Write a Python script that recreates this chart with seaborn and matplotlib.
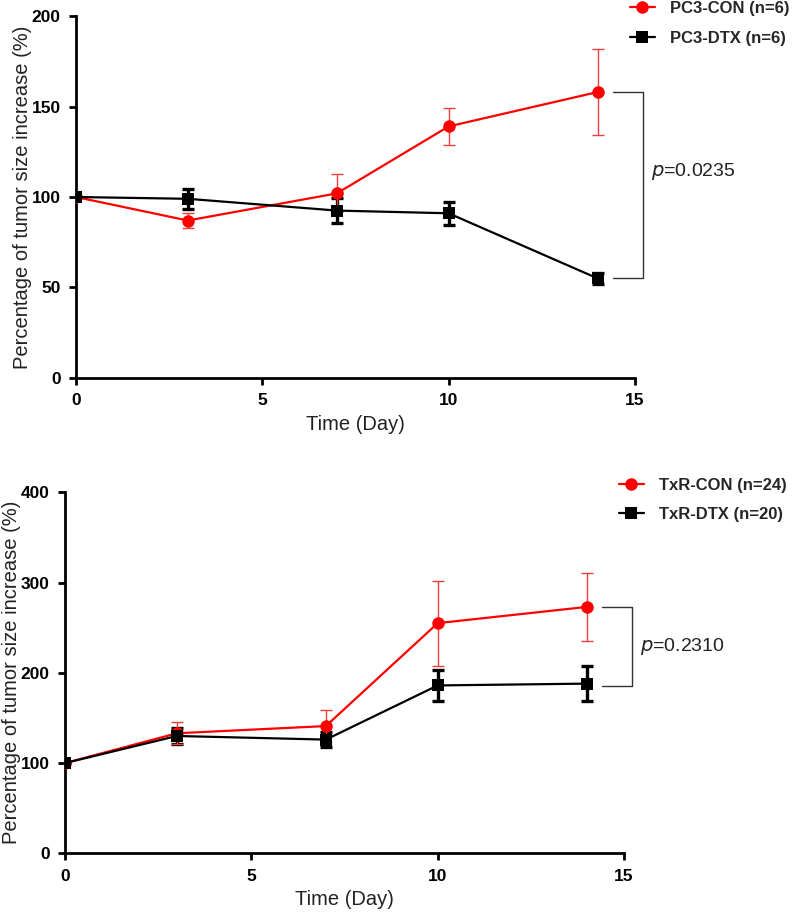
import numpy as np
import pandas as pd
import matplotlib
matplotlib.use("Agg")
import matplotlib.pyplot as plt
import seaborn as sns

# values (mean and SEM)
days = [0, 3, 7, 10, 14]

pc3_con = [100, 87, 102, 139, 158]
pc3_con_err = [0, 4.3, 10.5, 10.3, 24]
pc3_dtx = [100, 99, 92.5, 91, 55]
pc3_dtx_err = [0, 5.6, 7, 6.3, 3]

txr_con = [100, 133, 141, 255, 273]
txr_con_err = [0, 12, 18, 47, 38]
txr_dtx = [100, 130, 126, 186, 188]
txr_dtx_err = [0, 9, 8.5, 17.5, 19.5]

sns.set_theme(style="ticks")
plt.rcParams["font.family"] = ["Liberation Sans", "DejaVu Sans"]

fig = plt.figure(figsize=(7.99, 9.15), dpi=100)
ax1 = fig.add_axes([0.0951, 0.5869, 0.6996, 0.3956])
ax2 = fig.add_axes([0.0814, 0.0674, 0.6996, 0.3946])


def draw_panel(ax, con, con_err, dtx, dtx_err, labels, ymax, ystep, pval,
               br_top, br_bot, p_y):
    df = pd.DataFrame({"day": days * 2,
                       "value": dtx + con,
                       "group": [labels[1]] * 5 + [labels[0]] * 5})
    # black first so red sits on top
    ax.errorbar(days, dtx, yerr=dtx_err, fmt="none", ecolor="black",
                elinewidth=2.4, capsize=4, capthick=2.4, zorder=2)
    ax.errorbar(days, con, yerr=con_err, fmt="none", ecolor="#e84040",
                elinewidth=1, capsize=4, capthick=1, zorder=3)
    sns.lineplot(data=df, x="day", y="value", hue="group", style="group",
                 hue_order=labels, style_order=labels,
                 palette={labels[0]: "#ff0000", labels[1]: "black"},
                 markers={labels[0]: "o", labels[1]: "s"},
                 dashes=False, markersize=9, markeredgewidth=0,
                 linewidth=1.6, ax=ax, zorder=4, errorbar=None)

    ax.set_xlim(0, 15)
    ax.set_ylim(0, ymax)
    ax.set_xticks([0, 5, 10, 15])
    ax.set_yticks(np.arange(0, ymax + 1, ystep))
    for s in ["top", "right"]:
        ax.spines[s].set_visible(False)
    for s in ["left", "bottom"]:
        ax.spines[s].set_linewidth(2)
        ax.spines[s].set_color("black")
    ax.tick_params(width=2, length=5, pad=6, labelsize=12.5, colors="black")
    for t in ax.get_xticklabels() + ax.get_yticklabels():
        t.set_fontweight("bold")
    ax.set_xlabel("Time (Day)", fontsize=14.5, color="#222222")
    ax.xaxis.label.set_va("center")
    ax.xaxis.set_label_coords(0.5, -0.128)
    ax.set_ylabel("Percentage of tumor size increase (%)", fontsize=14.5,
                  color="#222222")
    ax.yaxis.label.set_va("center")
    ax.yaxis.set_label_coords(-0.096, 0.5)

    # significance bracket
    x0, x1 = 14.42, 15.21
    ax.plot([x0, x1, x1, x0], [br_top, br_top, br_bot, br_bot], color="#333333",
            lw=1, clip_on=False)
    ax.text(15.43, p_y, r"$\it{p}$=" + pval, fontsize=14,
            va="center", ha="left", color="#222222")

    ax.legend(loc="upper left", bbox_to_anchor=(0.985, 1.05), frameon=False,
              handlelength=1.5, handletextpad=0.9, borderpad=0.2,
              prop={"weight": "bold", "size": 12},
              labelspacing=0.86, borderaxespad=0)


draw_panel(ax1, pc3_con, pc3_con_err, pc3_dtx, pc3_dtx_err,
           ["PC3-CON (n=6)", "PC3-DTX (n=6)"], 200, 50, "0.0235",
           158, 55.5, 114)
draw_panel(ax2, txr_con, txr_con_err, txr_dtx, txr_dtx_err,
           ["TxR-CON (n=24)", "TxR-DTX (n=20)"], 400, 100, "0.2310",
           273.3, 185.5, 229)

fig.savefig("out.png", dpi=100)
